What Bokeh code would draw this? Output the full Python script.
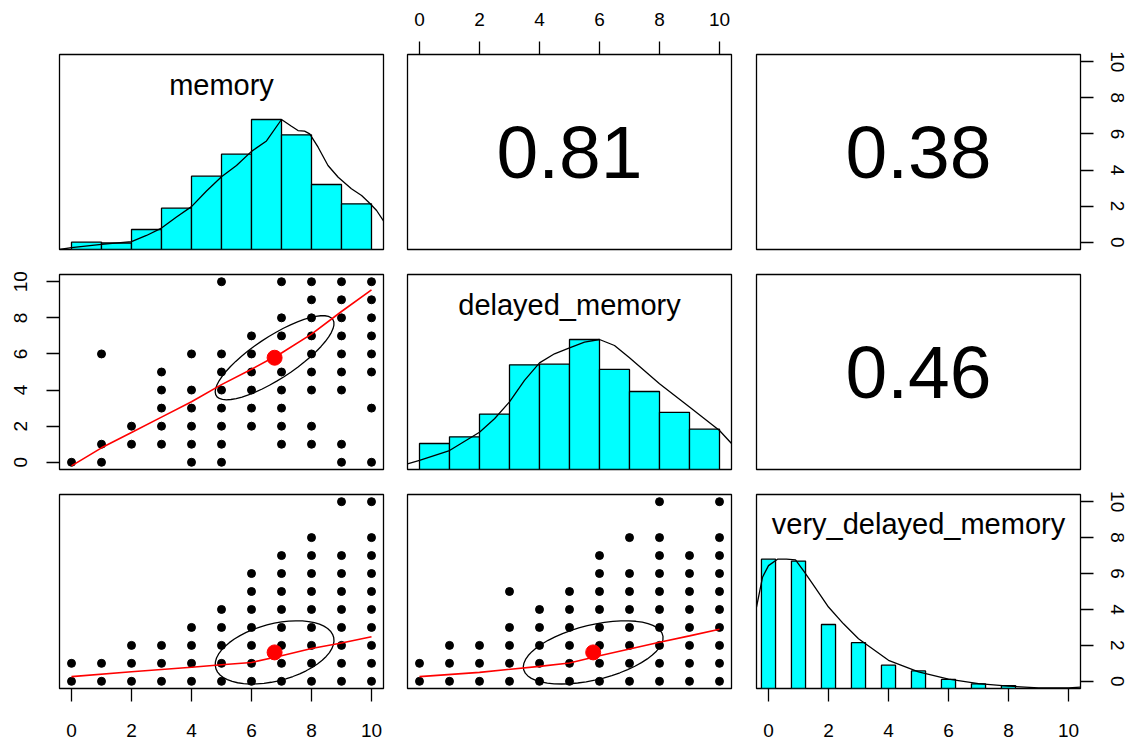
import numpy as np
from bokeh.plotting import figure
from bokeh.layouts import column, row
from bokeh.models import Range1d, LinearAxis, FixedTicker
from bokeh.core.properties import value
from bokeh.embed import file_html
from bokeh.resources import INLINE

# ---------------- data ----------------
var_names = ["memory", "delayed_memory", "very_delayed_memory"]
cor_mem_del = "0.81"
cor_mem_vdm = "0.38"
cor_del_vdm = "0.46"
axis_ticks = [0, 2, 4, 6, 8, 10]

var_means = [6.77, 5.79, 1.61]
var_sds = [1.98, 2.33, 1.76]
r_mem_del = 0.81
r_mem_vdm = 0.38
r_del_vdm = 0.46

# distinct (x, y) pairs shown in the scatter panels: x -> list of y
mem_del_pts = {0: [0], 1: [0, 1, 6], 2: [1, 2], 3: [1, 2, 3, 4, 5],
               4: [0, 1, 2, 3, 4, 6], 5: [0, 1, 2, 3, 4, 5, 6, 10],
               6: [2, 3, 4, 5, 6, 7], 7: [1, 2, 3, 4, 5, 7, 8, 10],
               8: [1, 2, 4, 5, 6, 7, 8, 9, 10], 9: [0, 1, 4, 5, 6, 7, 8, 9, 10],
               10: [0, 3, 5, 6, 7, 8, 9, 10]}
mem_vdm_pts = {0: [0, 1], 1: [0, 1], 2: [0, 1, 2], 3: [0, 1, 2], 4: [0, 1, 2, 3],
               5: [0, 1, 2, 3, 4], 6: [0, 1, 2, 3, 4, 5, 6], 7: [0, 1, 2, 3, 4, 5, 6, 7],
               8: [0, 1, 2, 3, 4, 5, 6, 7, 8], 9: [0, 1, 2, 3, 4, 5, 6, 7, 10],
               10: [0, 1, 2, 3, 4, 5, 6, 7, 8, 10]}
del_vdm_pts = {0: [0, 1], 1: [0, 1, 2], 2: [0, 1, 2], 3: [0, 1, 2, 3, 5],
               4: [0, 1, 2, 3, 4], 5: [0, 1, 2, 3, 4, 5], 6: [0, 1, 2, 3, 4, 5, 6, 7],
               7: [0, 1, 2, 3, 4, 5, 6, 8], 8: [0, 1, 2, 3, 4, 5, 6, 7, 8, 10],
               9: [0, 1, 2, 3, 4, 5, 6, 7], 10: [0, 1, 2, 3, 4, 5, 6, 7, 8, 10]}

# lowess smooths
smooth_mem_del_x = [0, 1, 2, 3, 4, 5, 6, 7, 8, 9, 10]
smooth_mem_del_y = [-0.2, 0.8, 1.65, 2.5, 3.35, 4.3, 5.15, 6.05, 7.1, 8.35, 9.55]
smooth_mem_vdm_x = [0, 2, 4, 5, 6, 7, 8, 9, 10]
smooth_mem_vdm_y = [0.26, 0.53, 0.78, 0.92, 1.05, 1.42, 1.83, 2.13, 2.48]
smooth_del_vdm_x = [0, 2, 4, 5, 6, 7, 8, 9, 10]
smooth_del_vdm_y = [0.26, 0.5, 0.83, 1.02, 1.42, 1.8, 2.17, 2.53, 2.9]

# histograms (heights relative to tallest bar)
mem_hist_left = [0, 1, 2, 3, 4, 5, 6, 7, 8, 9]
mem_hist_right = [1, 2, 3, 4, 5, 6, 7, 8, 9, 10]
mem_hist_height = [0.056, 0.05, 0.154, 0.318, 0.564, 0.733, 1.0, 0.882, 0.5, 0.351]
del_hist_left = [0, 1, 2, 3, 4, 5, 6, 7, 8, 9]
del_hist_right = [1, 2, 3, 4, 5, 6, 7, 8, 9, 10]
del_hist_height = [0.2, 0.251, 0.426, 0.805, 0.81, 1.0, 0.77, 0.60, 0.44, 0.31]
vdm_bar_center = [0, 1, 2, 3, 4, 5, 6, 7, 8]
vdm_bar_height = [1.0, 0.985, 0.495, 0.354, 0.18, 0.136, 0.07, 0.036, 0.023]

# density curves (scaled to max 1)
mem_dens_x = [-0.4, 0, 1, 2, 2.5, 3, 3.5, 4, 4.5, 5, 5.5, 6, 6.5, 7, 7.32, 7.55, 7.77,
              7.94, 8.22, 8.55, 8.89, 9.33, 9.67, 9.94, 10.17, 10.4]
mem_dens_y = [0.0, 0.015, 0.04, 0.06, 0.108, 0.165, 0.25, 0.33, 0.45, 0.56, 0.646, 0.755,
              0.835, 1.0, 0.95, 0.915, 0.91, 0.89, 0.787, 0.646, 0.556, 0.467, 0.415,
              0.356, 0.3, 0.22]
del_dens_x = [-0.4, 0, 1, 2, 2.5, 3, 3.5, 4, 4.5, 5, 5.5, 6, 6.5, 7, 7.5, 8, 9, 10, 10.4]
del_dens_y = [0.044, 0.07, 0.146, 0.287, 0.39, 0.52, 0.685, 0.82, 0.89, 0.936, 0.98, 1.0,
              0.954, 0.86, 0.76, 0.66, 0.48, 0.3, 0.2]
vdm_dens_x = [-0.4, -0.2, 0, 0.3, 0.6, 0.9, 1.2, 1.5, 2, 2.5, 3, 4, 5, 6, 7, 8, 9, 10, 10.4]
vdm_dens_y = [0.63, 0.86, 0.95, 1.0, 1.0, 0.995, 0.9, 0.8, 0.63, 0.5, 0.385, 0.218, 0.128,
              0.072, 0.038, 0.018, 0.005, 0.005, 0.01]

# ---------------- layout ----------------
FONT = "Liberation Sans"
FW, FH = 324, 195
col_borders = [(59, 12), (12, 12), (13, 46)]
row_borders = [(54, 12), (13, 12), (13, 50)]
LW = 1.3
LABEL_Y = 1.5 - 30.0 / FH * 1.5


def make_fig(r, c, y_range, extra=None):
    lb, rb = col_borders[c]
    tb, bb = row_borders[r]
    p = figure(width=FW + lb + rb, height=FH + tb + bb,
               x_range=Range1d(-0.4, 10.4), y_range=y_range,
               output_backend="svg", toolbar_location=None,
               x_axis_location=None, y_axis_location=None,
               min_border_left=lb, min_border_right=rb,
               min_border_top=tb, min_border_bottom=bb)
    if extra is not None:
        p.extra_y_ranges = extra
    p.grid.visible = False
    p.outline_line_color = "black"
    p.outline_line_width = LW
    p.outline_line_alpha = 1.0
    p.background_fill_color = "white"
    p.border_fill_color = "white"
    return p


def add_axis(p, side, standoff):
    ax = LinearAxis(ticker=FixedTicker(ticks=axis_ticks))
    ax.major_tick_out = 13
    ax.major_tick_in = 0
    ax.minor_tick_out = 0
    ax.minor_tick_in = 0
    ax.axis_line_color = None
    ax.major_tick_line_color = "black"
    ax.major_tick_line_width = LW
    ax.major_label_text_font = FONT
    ax.major_label_text_font_size = "19px"
    ax.major_label_text_color = "black"
    ax.major_label_standoff = standoff
    if side in ("left", "right"):
        ax.major_label_orientation = "vertical"
    p.add_layout(ax, side)


def expand(d):
    xs, ys = [], []
    for k, yl in d.items():
        for v in yl:
            xs.append(k)
            ys.append(v)
    return xs, ys


def ellipse(xm, ym, xs, ys, r, segments=51):
    ang = np.arange(segments + 1) * 2 * np.pi / segments
    t = np.sign(r) / np.sqrt(2) if abs(r) > 0 else 1 / np.sqrt(2)
    s1, s2 = np.sqrt(1 + r), np.sqrt(1 - r)
    ex = np.cos(ang) * s1 * t - np.sin(ang) * s2 * t
    ey = np.cos(ang) * s1 * t + np.sin(ang) * s2 * t
    return ex * xs + xm, ey * ys + ym


def scatter_panel(p, pts, ix, iy, r, sx, sy):
    xs, ys = expand(pts)
    p.scatter(xs, ys, size=8, color="black")
    p.scatter([var_means[ix]], [var_means[iy]], size=15, color="red")
    ex, ey = ellipse(var_means[ix], var_means[iy], var_sds[ix], var_sds[iy], r)
    p.line(ex, ey, color="black", line_width=LW)
    p.line(sx, sy, color="red", line_width=1.6)


def cor_panel(p, txt):
    p.text(x=[5], y=[5], text=[txt], text_font=value(FONT), text_font_size="75px",
           text_align="center", text_baseline="middle", text_color="black")


def label(p, name, rname="default"):
    p.text(x=[5], y=[LABEL_Y], text=[name], text_font=value(FONT), text_font_size="29px",
           text_align="center", text_baseline="alphabetic", text_color="black",
           y_range_name=rname)


# row 1
f00 = make_fig(0, 0, Range1d(0, 1.5))
f00.quad(left=mem_hist_left, right=mem_hist_right, bottom=0, top=mem_hist_height,
         fill_color="#00FFFF", line_color="black", line_width=LW)
f00.line(mem_dens_x, mem_dens_y, color="black", line_width=LW)
label(f00, var_names[0])

f01 = make_fig(0, 1, Range1d(-0.4, 10.4))
cor_panel(f01, cor_mem_del)
add_axis(f01, "above", 16)

f02 = make_fig(0, 2, Range1d(-0.4, 10.4))
cor_panel(f02, cor_mem_vdm)
add_axis(f02, "right", 17)

# row 2
f10 = make_fig(1, 0, Range1d(-0.4, 10.4))
scatter_panel(f10, mem_del_pts, 0, 1, r_mem_del, smooth_mem_del_x, smooth_mem_del_y)
add_axis(f10, "left", 19)

f11 = make_fig(1, 1, Range1d(0, 1.5))
f11.quad(left=del_hist_left, right=del_hist_right, bottom=0, top=del_hist_height,
         fill_color="#00FFFF", line_color="black", line_width=LW)
f11.line(del_dens_x, del_dens_y, color="black", line_width=LW)
label(f11, var_names[1])

f12 = make_fig(1, 2, Range1d(-0.4, 10.4))
cor_panel(f12, cor_del_vdm)

# row 3
f20 = make_fig(2, 0, Range1d(-0.4, 10.4))
scatter_panel(f20, mem_vdm_pts, 0, 2, r_mem_vdm, smooth_mem_vdm_x, smooth_mem_vdm_y)
add_axis(f20, "below", 22)

f21 = make_fig(2, 1, Range1d(-0.4, 10.4))
scatter_panel(f21, del_vdm_pts, 1, 2, r_del_vdm, smooth_del_vdm_x, smooth_del_vdm_y)

f22 = make_fig(2, 2, Range1d(-0.4, 10.4), extra={"hist": Range1d(0, 1.5)})
half_w = 0.235
f22.quad(left=[c - half_w for c in vdm_bar_center], right=[c + half_w for c in vdm_bar_center],
         bottom=0, top=vdm_bar_height, fill_color="#00FFFF", line_color="black",
         line_width=LW, y_range_name="hist")
f22.line(vdm_dens_x, vdm_dens_y, color="black", line_width=LW, y_range_name="hist")
label(f22, var_names[2], "hist")
add_axis(f22, "below", 22)
add_axis(f22, "right", 17)

layout = column(row(f00, f01, f02), row(f10, f11, f12), row(f20, f21, f22))
open("out.html", "w").write(file_html(layout, INLINE))
